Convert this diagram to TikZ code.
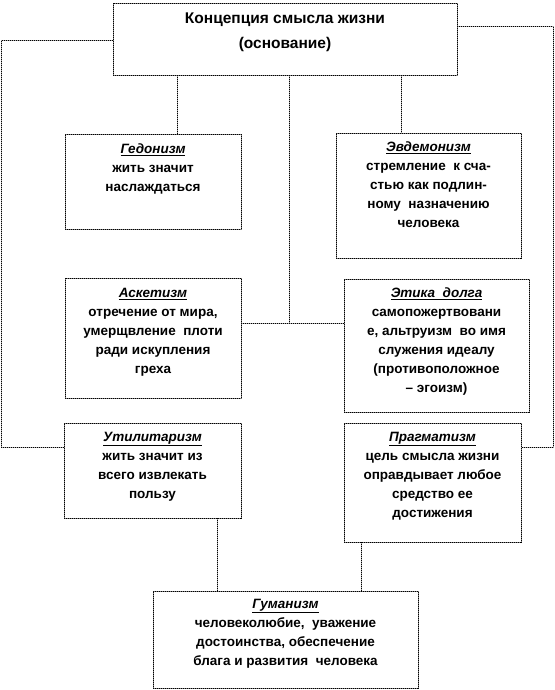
\documentclass[tikz,border=0pt]{standalone}
\usepackage{fontspec}
\setmainfont{Liberation Sans}
\begin{document}
\begin{tikzpicture}[x=1pt,y=-1pt,
  box/.style={draw=gray, line width=0.9pt, inner sep=0pt,
    postaction={draw=black, line width=0.9pt, dash pattern=on 1pt off 1pt}},
  conn/.style={draw=gray!70, line width=1pt,
    postaction={draw=black, line width=1pt, dash pattern=on 1pt off 1pt}},
  txt/.style={anchor=north, align=center, inner sep=0pt,
    font=\fontsize{13.5}{19}\selectfont\bfseries},
  ttl/.style={anchor=north, align=center, inner sep=0pt,
    font=\fontsize{15.5}{25}\selectfont\bfseries}]
\newcommand{\hd}[1]{\underline{\textit{#1}}}
\useasboundingbox (0,0) rectangle (554,690);
% boxes
\node[box, minimum width=344pt, minimum height=72pt] (top) at (285,39) {};
\node[box, minimum width=176pt, minimum height=95pt] (hed) at (153,181.5) {};
\node[box, minimum width=185pt, minimum height=125pt] (eud) at (428.5,195.5) {};
\node[box, minimum width=176pt, minimum height=120pt] (asc) at (153,338) {};
\node[box, minimum width=185pt, minimum height=133pt] (eth) at (436.5,345.5) {};
\node[box, minimum width=177pt, minimum height=95pt] (uti) at (152.5,470.5) {};
\node[box, minimum width=177pt, minimum height=119pt] (pra) at (432.5,482.5) {};
\node[box, minimum width=265pt, minimum height=97pt] (hum) at (285.5,639.5) {};
% texts
\node[ttl] (topT) at (285,13) {Концепция смысла жизни\\(основание)};
\node[txt] (hedT) at (153,144) {\hd{Гедонизм}\\жить значит\\наслаждаться};
\node[txt] (eudT) at (428.5,142) {\hd{Эвдемонизм}\\стремление~ к сча-\\стью как подлин-\\ному~ назначению\\человека};
\node[txt] (ascT) at (153,288) {\hd{Аскетизм}\\отречение от мира,\\умерщвление~ плоти\\ради искупления\\греха};
\node[txt] (ethT) at (436.5,288) {\hd{Этика~ долга}\\самопожертвовани\\е, альтруизм~ во имя\\служения идеалу\\(противоположное\\– эгоизм)};
\node[txt] (utiT) at (152.5,432) {\hd{Утилитаризм}\\жить значит из\\всего извлекать\\пользу};
\node[txt] (praT) at (432.5,432) {\hd{Прагматизм}\\цель смысла жизни\\оправдывает любое\\средство ее\\достижения};
\node[txt] (humT) at (285.5,599) {\hd{Гуманизм}\\человеколюбие,~ уважение\\достоинства, обеспечение\\блага и развития~ человека};
% connectors
\coordinate (L1) at (1,41);
\coordinate (L2) at (1,447);
\coordinate (R1) at (553,27);
\coordinate (R2) at (553,447);
\coordinate (mid) at (289,323);
\draw[conn] (top.west |- L1) -- (L1) -- (L2) -- (uti.west |- L2);
\draw[conn] (top.east |- R1) -- (R1) -- (R2) -- (pra.east |- R2);
\draw[conn] (top.south -| 177,0) -- (hed.north -| 177,0);
\draw[conn] (top.south -| 401,0) -- (eud.north -| 401,0);
\draw[conn] (top.south -| mid) -- (mid);
\draw[conn] (asc.east |- mid) -- (eth.west |- mid);
\draw[conn] (uti.south -| 217,0) -- (hum.north -| 217,0);
\draw[conn] (pra.south -| 361,0) -- (hum.north -| 361,0);
\end{tikzpicture}
\end{document}
